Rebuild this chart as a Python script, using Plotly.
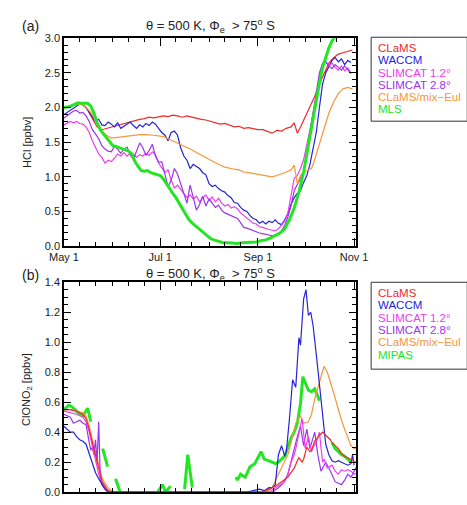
import plotly.graph_objects as go
import pandas as pd

# ---------------- data (day offset from May 1, value) ----------------
START = "2011-05-01"

hcl_clams = [(0,2.00),(3,2.02),(6,2.04),(9,2.05),(12,2.04),(15,1.97),(18,1.84),(21,1.72),(24,1.68),(27,1.70),
             (30,1.71),(33,1.73),(36,1.76),(39,1.77),(42,1.80),(45,1.81),(48,1.83),(51,1.84),(54,1.86),(57,1.85),
             (60,1.87),(63,1.88),(66,1.87),(69,1.89),(72,1.88),(75,1.86),(78,1.88),(81,1.86),(84,1.85),(87,1.83),
             (90,1.82),(93,1.80),(96,1.79),(99,1.76),(102,1.77),(105,1.74),(108,1.72),(111,1.73),(114,1.70),(117,1.71),
             (120,1.69),(123,1.68),(126,1.68),(129,1.66),(132,1.63),(135,1.67),(138,1.66),(141,1.70),(144,1.72),
             (146,1.78),(148,1.63),(150,1.72),(153,1.86),(156,2.00),(159,2.16),(162,2.34),(165,2.50),(168,2.64),
             (171,2.72),(174,2.77),(177,2.79),(180,2.81),(183,2.83)]

hcl_waccm = [(0,1.90),(2,1.93),(4,1.97),(6,2.00),(8,2.03),(10,2.05),(12,2.04),(14,2.00),(16,1.93),(18,1.86),
             (20,1.80),(22,1.83),(24,1.75),(26,1.74),(28,1.79),(30,1.76),(32,1.72),(34,1.78),(36,1.70),(38,1.73),
             (40,1.76),(42,1.79),(44,1.74),(46,1.70),(48,1.75),(50,1.72),(52,1.77),(54,1.74),(56,1.79),(58,1.76),
             (60,1.70),(62,1.64),(64,1.60),(66,1.52),(68,1.64),(70,1.66),(72,1.60),(74,1.42),(76,1.30),(78,1.24),
             (80,1.12),(82,1.18),(84,1.15),(86,1.12),(88,1.06),(90,1.03),(92,0.90),(94,0.86),(96,0.88),(98,0.83),
             (100,0.80),(102,0.78),(104,0.73),(106,0.70),(108,0.63),(110,0.62),(112,0.56),(114,0.52),(116,0.50),
             (118,0.44),(120,0.40),(122,0.38),(124,0.33),(126,0.36),(128,0.32),(130,0.36),(132,0.34),(134,0.38),
             (136,0.33),(138,0.31),(140,0.38),(142,0.47),(144,0.60),(146,0.70),(148,0.76),(150,0.80),(152,0.92),
             (154,1.02),(156,1.18),(158,1.40),(160,1.64),(162,2.00),(164,2.34),(166,2.50),(168,2.60),(170,2.68),
             (172,2.72),(174,2.66),(176,2.70),(178,2.62),(180,2.68),(182,2.65)]

hcl_slim12 = [(0,1.75),(2,1.77),(4,1.80),(6,1.78),(8,1.80),(10,1.77),(12,1.76),(14,1.72),(16,1.64),(18,1.52),
              (20,1.42),(22,1.33),(24,1.28),(26,1.20),(28,1.24),(30,1.22),(32,1.27),(34,1.33),(36,1.30),(38,1.35),
              (40,1.30),(42,1.34),(44,1.33),(46,1.28),(48,1.32),(50,1.30),(52,1.34),(54,1.31),(56,1.36),(58,1.32),
              (60,1.20),(62,1.12),(64,1.06),(66,1.10),(68,0.95),(70,0.84),(72,0.88),(74,0.82),(76,0.76),(78,0.70),
              (80,0.74),(82,0.68),(84,0.72),(86,0.64),(88,0.70),(90,0.74),(92,0.66),(94,0.71),(96,0.64),(98,0.69),
              (100,0.62),(102,0.58),(104,0.60),(106,0.55),(108,0.57),(110,0.54),(112,0.48),(114,0.44),(116,0.41),
              (118,0.36),(120,0.33),(122,0.32),(124,0.28),(126,0.27),(128,0.25),(130,0.24),(132,0.23),(134,0.22),
              (136,0.25),(138,0.30),(140,0.36),(142,0.48),(144,0.72),(146,0.98),(148,1.02),(150,1.12),(152,1.25),
              (154,1.45),(156,1.68),(158,1.92),(160,2.12),(162,2.45),(164,2.62),(166,2.66),(168,2.60),(170,2.64),
              (172,2.58),(174,2.54),(176,2.60),(178,2.53),(180,2.57),(182,2.50)]

hcl_slim28 = [(0,1.85),(2,1.88),(4,1.92),(6,1.95),(8,1.96),(10,1.92),(12,1.93),(14,1.88),(16,1.80),(18,1.68),
              (20,1.62),(22,1.55),(24,1.45),(26,1.40),(28,1.37),(30,1.36),(32,1.44),(34,1.40),(36,1.34),(38,1.40),
              (40,1.43),(42,1.32),(44,1.25),(46,1.38),(48,1.49),(50,1.42),(52,1.31),(54,1.38),(56,1.47),(58,1.30),
              (60,1.21),(62,1.22),(64,1.05),(66,0.86),(68,0.95),(70,1.12),(72,1.04),(74,0.90),(76,0.76),(78,0.62),
              (80,0.88),(82,0.70),(84,0.52),(86,0.60),(88,0.72),(90,0.58),(92,0.68),(94,0.62),(96,0.56),(98,0.59),
              (100,0.52),(102,0.48),(104,0.46),(106,0.44),(108,0.42),(110,0.40),(112,0.34),(114,0.27),(116,0.26),
              (118,0.24),(120,0.22),(122,0.20),(124,0.19),(126,0.18),(128,0.17),(130,0.16),(132,0.15),(134,0.16),
              (136,0.18),(138,0.22),(140,0.30),(142,0.42),(144,0.58),(146,0.80),(148,0.88),(150,0.98),(152,1.07),
              (154,1.35),(156,1.63),(158,1.90),(160,2.20),(162,2.50),(164,2.64),(166,2.66),(168,2.60),(170,2.56),
              (172,2.62),(174,2.58),(176,2.54),(178,2.60),(180,2.55),(182,2.49)]

hcl_mixeul = [(0,2.00),(3,2.02),(6,2.04),(9,2.05),(12,2.04),(15,1.98),(18,1.90),(21,1.76),(24,1.66),(27,1.60),
              (30,1.56),(33,1.57),(36,1.58),(39,1.59),(42,1.60),(45,1.61),(48,1.61),(51,1.61),(54,1.61),(57,1.60),
              (60,1.59),(63,1.58),(66,1.55),(69,1.52),(72,1.49),(75,1.46),(78,1.42),(81,1.39),(84,1.35),(87,1.32),
              (90,1.28),(93,1.24),(96,1.20),(99,1.17),(102,1.14),(105,1.12),(108,1.11),(111,1.10),(114,1.07),
              (117,1.06),(120,1.05),(123,1.04),(126,1.03),(129,1.02),(132,1.00),(135,1.02),(138,1.04),(141,1.07),
              (144,1.10),(146,1.17),(148,0.90),(150,1.02),(152,1.07),(155,1.10),(157,1.12),(159,1.25),(162,1.48),
              (165,1.72),(168,1.92),(171,2.08),(174,2.20),(177,2.27),(180,2.29),(183,2.27)]

hcl_mls = [(0,2.00),(3,2.01),(6,2.04),(9,2.07),(12,2.06),(15,2.06),(17,2.02),(19,1.92),(21,1.78),(23,1.68),
           (25,1.62),(27,1.56),(29,1.50),(31,1.45),(33,1.44),(35,1.42),(37,1.40),(39,1.38),(41,1.37),(43,1.33),
           (45,1.22),(47,1.15),(49,1.09),(51,1.08),(53,1.09),(55,1.06),(57,1.05),(59,1.04),(61,1.02),(63,0.97),
           (65,0.90),(67,0.82),(69,0.76),(71,0.70),(73,0.62),(75,0.55),(77,0.46),(79,0.39),(81,0.34),(83,0.30),
           (85,0.26),(87,0.22),(89,0.18),(91,0.14),(93,0.11),(95,0.09),(98,0.07),(101,0.05),(104,0.05),(107,0.04),
           (110,0.04),(113,0.05),(116,0.05),(119,0.05),(122,0.06),(125,0.08),(128,0.09),(131,0.12),(134,0.15),
           (137,0.19),(140,0.25),(143,0.38),(146,0.55),(149,0.78),(152,1.07),(154,1.33),(156,1.63),(158,1.88),
           (160,2.10),(162,2.35),(164,2.58),(166,2.74),(168,2.86),(170,2.96),(172,3.02),(174,3.05),(176,3.08)]

cl_clams = [(0,0.55),(4,0.55),(8,0.54),(12,0.52),(14,0.49),(16,0.42),(18,0.33),(20,0.24),(22,0.15),(24,0.08),
            (26,0.04),(28,0.01),(30,0.00),(126,0.00),(130,0.02),(134,0.04),(138,0.07),(142,0.10),(144,0.13),
            (146,0.16),(148,0.21),(149,0.23),(151,0.20),(152,0.22),(154,0.30),(156,0.27),(157,0.28),(159,0.34),
            (160,0.35),(162,0.38),(164,0.40),(165,0.39),(167,0.37),(169,0.35),(170,0.33),(172,0.31),(174,0.29),
            (176,0.26),(178,0.24),(180,0.23),(182,0.22),(185,0.20)]

cl_waccm = [(0,0.44),(2,0.42),(4,0.40),(6,0.40),(8,0.37),(10,0.35),(12,0.34),(14,0.32),(16,0.26),(18,0.19),
            (20,0.13),(22,0.09),(24,0.05),(26,0.02),(28,0.00),(116,0.00),(120,0.01),(124,0.02),(127,0.01),
            (130,0.03),(132,0.03),(134,0.05),(136,0.25),(138,0.31),(140,0.24),(141,0.27),(143,0.49),(145,0.75),
            (147,0.70),(149,1.03),(150,0.98),(151,1.11),(152,1.29),(153.5,1.35),(155,1.18),(156.5,1.20),(158,1.11),
            (160,0.92),(162,0.72),(164,0.48),(165,0.42),(166,0.32),(168,0.25),(170,0.21),(172,0.20),(174,0.21),
            (176,0.20),(178,0.19),(180,0.18),(182,0.19),(183,0.25),(184,0.18)]

cl_slim12 = [(0,0.54),(4,0.53),(8,0.52),(12,0.50),(14,0.47),(16,0.40),(18,0.30),(20,0.20),(22,0.12),(24,0.06),
             (26,0.03),(28,0.01),(30,0.00),(130,0.00),(134,0.03),(137,0.05),(140,0.07),(142,0.12),(144,0.20),
             (146,0.25),(147,0.29),(149,0.39),(151,0.49),(153,0.29),(155,0.37),(157,0.27),(158,0.30),(160,0.33),
             (162,0.40),(164,0.20),(165,0.22),(167,0.16),(170,0.18),(172,0.14),(174,0.12),(176,0.15),(178,0.14),
             (180,0.15),(182,0.14),(184,0.12),(186,0.13)]

cl_slim28 = [(0,0.52),(2,0.51),(4,0.50),(6,0.46),(8,0.47),(10,0.48),(12,0.46),(14,0.45),(16,0.33),(17,0.28),
             (18,0.30),(19,0.25),(20,0.35),(21,0.20),(22,0.47),(23,0.10),(24,0.05),(26,0.02),(28,0.00),(132,0.00),
             (136,0.03),(139,0.06),(142,0.12),(145,0.25),(148,0.37),(150,0.44),(152,0.31),(154,0.42),(156,0.29),
             (159,0.40),(161,0.25),(163,0.14),(166,0.20),(169,0.14),(172,0.07),(174,0.06),(176,0.05),(178,0.08),
             (180,0.12),(182,0.10),(184,0.14),(186,0.18)]

cl_mixeul = [(0,0.55),(4,0.55),(8,0.54),(12,0.53),(14,0.51),(16,0.44),(18,0.35),(20,0.26),(22,0.18),(24,0.10),
             (26,0.06),(28,0.03),(30,0.01),(32,0.00),(128,0.00),(132,0.03),(136,0.12),(140,0.20),(142,0.25),
             (144,0.33),(147,0.46),(150,0.51),(152,0.46),(155,0.47),(157,0.52),(159,0.62),(161,0.70),(163,0.77),
             (165,0.84),(167,0.80),(170,0.70),(172,0.62),(174,0.55),(176,0.48),(178,0.42),(180,0.36),(182,0.31),
             (184,0.29),(186,0.29)]

cl_mipas = [(0,0.55),(3,0.58),(5,0.57),(7,0.55),(9,0.53),(12,0.51),(15,0.56),(17,0.47),(18,None),
            (24.5,0.29),(27.7,0.17),(29,None),
            (32.7,0.09),(35.6,0.00),(37,None),
            (59.5,0.00),(62.5,0.05),(64.5,0.00),(66,0.02),(67.5,0.04),(69,None),
            (76.5,0.02),(78.5,0.25),(81.4,0.03),(83,None),
            (109,0.10),(110,0.08),(112,0.12),(115,0.10),(118,0.17),(121,0.19),(123,0.23),(125,0.27),(127,0.22),
            (130,0.21),(132,0.20),(134,0.19),(136,0.20),(138,0.22),(140,0.24),(142,0.30),(144,0.36),(146,0.40),
            (148,0.46),(150,0.59),(151.5,0.77),(153,0.73),(155,0.68),(157,0.67),(159,0.69),(161,0.64),(162,0.61),
            (163,None),
            (170,0.33),(172,0.29),(174,0.27),(176,0.25),(178,0.24),(180,0.22),(182,0.20)]

# ---------------- styling ----------------
RED = "#ee2a2a"
BLUE = "#2323d8"
MAGENTA = "#ee3cee"
PURPLE = "#9b33f0"
ORANGE = "#f7963c"
GREEN = "#22e622"
FONT = "Liberation Sans, Arial, Helvetica, sans-serif"

W, H = 467, 505
def px(x):
    return x / W
def py(y):
    return 1 - y / H

def to_xy(pairs):
    base = pd.Timestamp(START)
    xs = [(base + pd.Timedelta(days=d)).strftime("%Y-%m-%d %H:%M") for d, _ in pairs]
    ys = [v for _, v in pairs]
    return xs, ys

fig = go.Figure()

panel_a = [("CLaMS", hcl_clams, RED, 1.2), ("WACCM", hcl_waccm, BLUE, 1.2),
           ("SLIMCAT 1.2°", hcl_slim12, MAGENTA, 1.2), ("SLIMCAT 2.8°", hcl_slim28, PURPLE, 1.2),
           ("CLaMS/mix-Eul", hcl_mixeul, ORANGE, 1.2), ("MLS", hcl_mls, GREEN, 3.0)]
for name, pairs, col, w in panel_a:
    xs, ys = to_xy(pairs)
    fig.add_trace(go.Scatter(x=xs, y=ys, mode="lines", line=dict(color=col, width=w),
                             name=name, xaxis="x", yaxis="y", showlegend=False))

panel_b = [("MIPAS", cl_mipas, GREEN, 3.0), ("CLaMS/mix-Eul", cl_mixeul, ORANGE, 1.2),
           ("SLIMCAT 2.8°", cl_slim28, PURPLE, 1.2), ("SLIMCAT 1.2°", cl_slim12, MAGENTA, 1.2),
           ("WACCM", cl_waccm, BLUE, 1.2), ("CLaMS", cl_clams, RED, 1.2)]
for name, pairs, col, w in panel_b:
    xs, ys = to_xy(pairs)
    fig.add_trace(go.Scatter(x=xs, y=ys, mode="lines", line=dict(color=col, width=w),
                             connectgaps=False, name=name, xaxis="x2", yaxis="y2", showlegend=False))

major_ticks = ["2011-05-01", "2011-07-01", "2011-09-01", "2011-11-01"]
major_text = ["May 1", "Jul 1", "Sep 1", "Nov 1"]
minor_ticks = []
for m in range(5, 12):
    for dd in (1, 11, 21):
        if m == 11 and dd > 1:
            continue
        minor_ticks.append(f"2011-{m:02d}-{dd:02d}")

xrange_ = ["2011-05-01", "2011-11-02 06:00"]

def xaxis_cfg(domain, anchor, labels):
    return dict(domain=domain, anchor=anchor, range=xrange_, type="date",
                tickmode="array", tickvals=major_ticks, ticktext=major_text,
                ticks="inside", ticklen=8, tickwidth=1.2, tickcolor="black",
                minor=dict(tickmode="array", tickvals=minor_ticks, ticks="inside",
                           ticklen=4, tickwidth=1.2, tickcolor="black"),
                showline=True, linecolor="black", linewidth=1.5, mirror="allticks",
                showgrid=False, zeroline=False, showticklabels=labels,
                tickfont=dict(size=11, color="#222", family=FONT))

def yaxis_cfg(domain, anchor, rng, dtick, mdtick):
    return dict(domain=domain, anchor=anchor, range=rng, tickmode="linear", tick0=0, dtick=dtick,
                tickformat=".1f", ticks="inside", ticklen=7, tickwidth=1.2, tickcolor="black",
                minor=dict(tickmode="linear", tick0=0, dtick=mdtick, ticks="inside",
                           ticklen=4, tickwidth=1.2, tickcolor="black"),
                showline=True, linecolor="black", linewidth=1.5, mirror="allticks",
                showgrid=False, zeroline=False,
                tickfont=dict(size=11, color="#222", family=FONT))

fig.update_layout(
    width=W, height=H, margin=dict(l=0, r=0, t=0, b=0),
    paper_bgcolor="white", plot_bgcolor="white",
    font=dict(family=FONT, color="#222"),
    xaxis=xaxis_cfg([px(52), px(362)], "y", True),
    yaxis=yaxis_cfg([py(246), py(33)], "x", [0, 3.0], 0.5, 0.1),
    xaxis2=xaxis_cfg([px(52), px(362)], "y2", False),
    yaxis2=yaxis_cfg([py(498), py(283)], "x2", [0, 1.4], 0.2, 0.05),
)

title_txt = "θ = 500 K, Φ<sub>e</sub>  > 75<sup>o</sup> S"
ann = []
for ty, lab, ly in [(20, "(a)", 20), (275, "(b)", 276)]:
    ann.append(dict(x=px(207), y=py(ty), xref="paper", yref="paper", text=title_txt, showarrow=False,
                    xanchor="center", yanchor="middle", font=dict(size=13, color="#222", family=FONT)))
    ann.append(dict(x=px(5), y=py(ly), xref="paper", yref="paper", text=lab, showarrow=False,
                    xanchor="left", yanchor="middle", font=dict(size=14, color="#222", family=FONT)))

ann.append(dict(x=px(12), y=py(140), xref="paper", yref="paper", text="HCl [ppbv]", showarrow=False,
                textangle=-90, xanchor="center", yanchor="middle", font=dict(size=11, color="#222", family=FONT)))
ann.append(dict(x=px(12), y=py(393), xref="paper", yref="paper", text="ClONO<sub>2</sub> [ppbv]",
                showarrow=False, textangle=-90, xanchor="center", yanchor="middle",
                font=dict(size=11, color="#222", family=FONT)))

legend_a = [("CLaMS", RED), ("WACCM", BLUE), ("SLIMCAT 1.2°", MAGENTA),
            ("SLIMCAT 2.8°", PURPLE), ("CLaMS/mix−Eul", ORANGE), ("MLS", GREEN)]
legend_b = [("CLaMS", RED), ("WACCM", BLUE), ("SLIMCAT 1.2°", MAGENTA),
            ("SLIMCAT 2.8°", PURPLE), ("CLaMS/mix−Eul", ORANGE), ("MIPAS", GREEN)]
shapes = []
for items, y0, y1, ystart in [(legend_a, 32, 118, 43), (legend_b, 283, 372, 294)]:
    shapes.append(dict(type="rect", xref="paper", yref="paper", x0=px(378), x1=px(480),
                       y0=py(y1), y1=py(y0), line=dict(color="#333", width=1), fillcolor="rgba(0,0,0,0)"))
    for i, (t, c) in enumerate(items):
        ann.append(dict(x=px(383), y=py(ystart + i * 12.6), xref="paper", yref="paper", text=t,
                        showarrow=False, xanchor="left", yanchor="middle",
                        font=dict(size=11.5, color=c, family=FONT)))

fig.update_layout(annotations=ann, shapes=shapes)
fig.write_html("out.html")
